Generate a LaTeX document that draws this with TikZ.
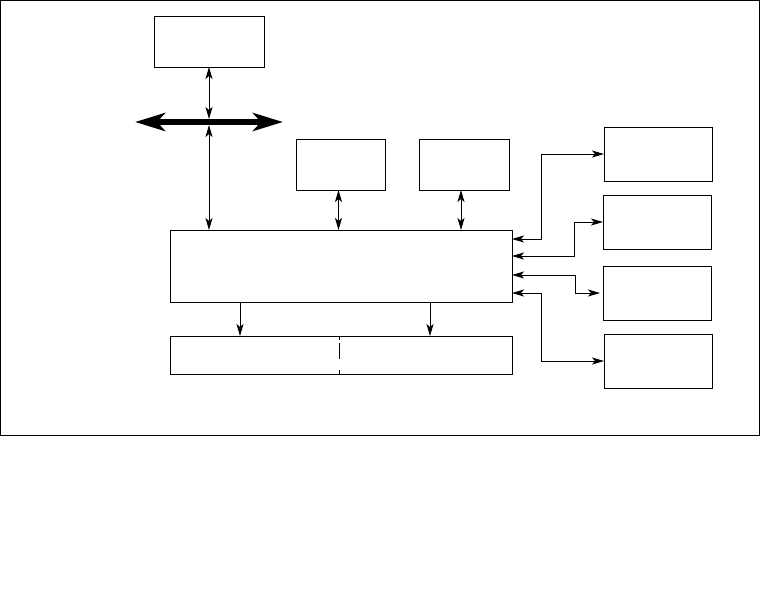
\documentclass[tikz,border=0pt]{standalone}
\usetikzlibrary{arrows.meta}
\begin{document}
\begin{tikzpicture}[x=1pt,y=-1pt,
  box/.style={draw,line width=0.9pt,anchor=north west,inner sep=0pt,outer sep=0pt},
  dbl/.style={line width=0.9pt,{Stealth[length=12pt,width=7pt,inset=3pt]}-{Stealth[length=12pt,width=7pt,inset=3pt]}},
  sgl/.style={line width=0.9pt,-{Stealth[length=12pt,width=7pt,inset=3pt]}},
  bus/.style={line width=6pt,{Stealth[length=30pt,width=18pt,inset=8pt]}-{Stealth[length=30pt,width=18pt,inset=8pt]}}]
\useasboundingbox (0,0) rectangle (760,602);
\draw[line width=1pt] (0.5,0.5) rectangle (759,435);
% boxes
\node[box,minimum width=110pt,minimum height=51pt] (top) at (154,16) {};
\node[box,minimum width=89pt,minimum height=51pt] (b2) at (296,139) {};
\node[box,minimum width=90pt,minimum height=51pt] (b3) at (419,139) {};
\node[box,minimum width=342pt,minimum height=72pt] (main) at (170,230) {};
\node[box,minimum width=342pt,minimum height=38pt] (bottom) at (170,336) {};
\node[box,minimum width=108pt,minimum height=54pt] (r1) at (604,127) {};
\node[box,minimum width=108pt,minimum height=54pt] (r2) at (603,195) {};
\node[box,minimum width=108pt,minimum height=54pt] (r3) at (603,266) {};
\node[box,minimum width=108pt,minimum height=54pt] (r4) at (604,334) {};
% bus
\coordinate (busL) at (135,122);
\coordinate (busR) at (283,122);
\coordinate (busT) at (209,119);
\coordinate (busB) at (209,125);
\draw[bus] (busL) -- (busR);
\draw[dbl] (top.south) -- (busT);
\draw[dbl] (busB) -- (busB |- main.north);
% upper small boxes
\draw[dbl] ([xshift=-2pt]b2.south) -- ([xshift=-2pt]b2.south |- main.north);
\draw[dbl] ([xshift=-3pt]b3.south) -- ([xshift=-3pt]b3.south |- main.north);
% right side
\coordinate (m1) at ([yshift=27pt]main.east);
\coordinate (m2) at ([yshift=10pt]main.east);
\coordinate (m3) at ([yshift=-9pt]main.east);
\coordinate (m4) at ([yshift=-27pt]main.east);
\draw[dbl] (r1.west) -| ([xshift=29pt]m1) -- (m1);
\draw[dbl] (r2.west) -| ([xshift=62pt]m2) -- (m2);
\draw[dbl] ([xshift=-3pt]r3.west) -| ([xshift=63pt]m3) -- (m3);
\draw[dbl] (r4.west) -| ([xshift=29pt]m4) -- (m4);
% down arrows
\draw[sgl] ([xshift=-101pt]main.south) -- ([xshift=-101pt]bottom.north);
\draw[sgl] ([xshift=89pt]main.south) -- ([xshift=89pt]bottom.north);
% divider
\draw[line width=0.9pt,dash pattern=on 4pt off 3pt on 16pt off 11pt on 4pt] ([xshift=-2pt]bottom.north) -- ([xshift=-2pt]bottom.south);
\end{tikzpicture}
\end{document}
